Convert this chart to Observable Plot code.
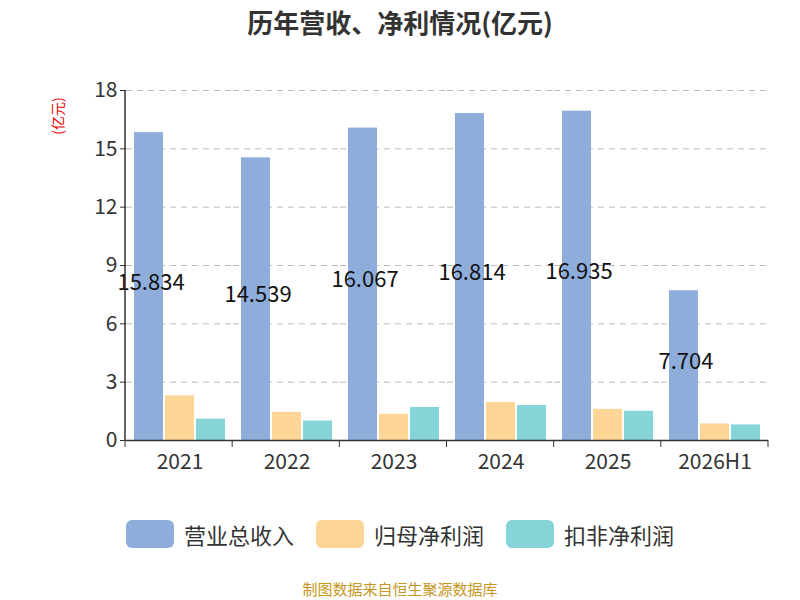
<!DOCTYPE html>
<html><head><meta charset="utf-8">
<script src="https://cdn.jsdelivr.net/npm/d3@7"></script>
<script src="https://cdn.jsdelivr.net/npm/@observablehq/plot@0.6"></script>
<style>
body{margin:0;width:800px;height:600px;background:#fff;font-family:"Noto Sans CJK SC","Noto Sans",sans-serif;position:relative;overflow:hidden}
#title{position:absolute;top:3px;width:800px;text-align:center;font-size:26px;font-weight:bold;color:#333}
#chart{position:absolute;top:50px;left:0}
#unit{position:absolute;left:38px;top:106px;color:#e00;font-size:14px;transform:rotate(-90deg);white-space:nowrap}
#legend{position:absolute;top:518px;width:800px;display:flex;justify-content:center;gap:22px;font-size:22px;color:#333}
#legend span{display:flex;align-items:center}
#legend i{display:inline-block;width:48px;height:28px;border-radius:6px;margin-right:10px}
#foot{position:absolute;top:578px;width:800px;text-align:center;color:#c8961e;font-size:15px}
</style></head><body>
<div id="title">历年营收、净利情况(亿元)</div>
<div id="unit">(亿元)</div>
<div id="chart"></div>
<div id="legend"></div>
<div id="foot">制图数据来自恒生聚源数据库</div>
<script>
const years=["2021","2022","2023","2024","2025","2026H1"];
const series=["营业总收入","归母净利润","扣非净利润"];
const colors=["#8eaddb","#fdd596","#84d4d8"];
const revenue=[15.834,14.539,16.067,16.814,16.935,7.704];
const netProfit=[2.3,1.45,1.35,1.95,1.6,0.85];
const deducted=[1.1,1.0,1.7,1.8,1.5,0.8];
const vals=[revenue,netProfit,deducted];
const data=[];
years.forEach((y,i)=>series.forEach((s,j)=>data.push({year:y,series:s,value:vals[j][i]})));
const rev=years.map((y,i)=>({year:y,series:series[0],value:revenue[i]}));
const chart=Plot.plot({
  width:800,height:440,marginTop:40,marginBottom:50,marginLeft:125,marginRight:32,
  style:{fontSize:"21px",fontFamily:"Noto Sans CJK SC, Noto Sans, sans-serif",color:"#333"},
  fx:{domain:years,padding:0,label:null,tickSize:0,tickPadding:14},
  x:{domain:series,axis:null,paddingInner:0.08,paddingOuter:0.25},
  y:{domain:[0,18],ticks:[0,3,6,9,12,15,18],label:null,tickSize:6,tickPadding:6},
  color:{domain:series,range:colors},
  marks:[
    Plot.gridY([3,6,9,12,15,18],{stroke:"#bbb",strokeOpacity:1,strokeDasharray:"6,5"}),
    Plot.barY(data,{fx:"year",x:"series",y:"value",fill:"series"}),
    Plot.text(rev,{fx:"year",x:"series",y:d=>d.value/2,text:d=>d.value.toFixed(3),fontSize:22,fill:"#111",dx:2,dy:-4}),
    Plot.ruleY([0],{stroke:"#333",strokeWidth:1.5}),
    Plot.axisY({ticks:[0,3,6,9,12,15,18],tickSize:6,label:null,fontSize:21})
  ]
});
document.getElementById("chart").appendChild(chart);
const svg=d3.select(chart);
svg.append("line").attr("x1",125).attr("x2",125).attr("y1",40).attr("y2",390).attr("stroke","#333").attr("stroke-width",1.5);
const bw=(800-125-32)/6;
for(let k=0;k<=6;k++)svg.append("line").attr("x1",125+k*bw).attr("x2",125+k*bw).attr("y1",390).attr("y2",397).attr("stroke","#333");
const lg=document.getElementById("legend");
series.forEach((s,j)=>{lg.innerHTML+=`<span><i style="background:${colors[j]}"></i>${s}</span>`});
</script></body></html>
